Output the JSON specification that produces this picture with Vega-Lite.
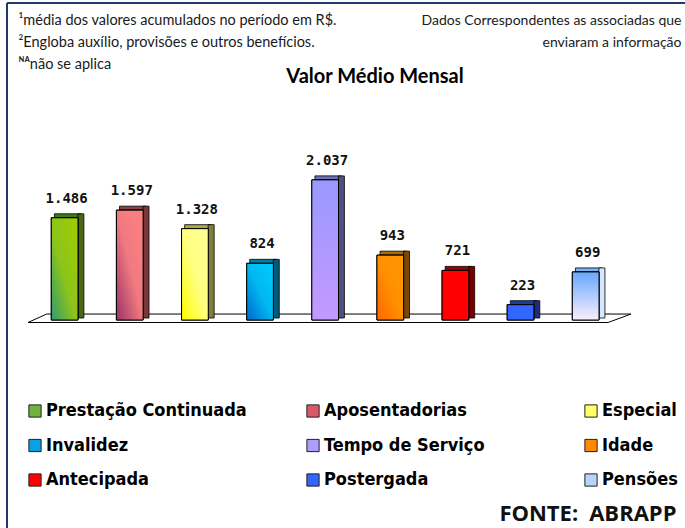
{
  "$schema": "https://vega.github.io/schema/vega-lite/v6.json",
  "width": 678,
  "height": 525,
  "autosize": {"type": "none"},
  "padding": {"left": 7, "top": 3, "right": 0, "bottom": 0},
  "background": "white",
  "title": {"text": "Valor Médio Mensal", "anchor": "middle", "frame": "group", "orient": "top", "offset": -82, "baseline": "alphabetic", "dx": 29, "dy": 18, "font": "Lato", "fontSize": 20, "fontWeight": "bold", "color": "#000000"},
  "datasets": {
    "bars": [
      {"cat": "Prestação Continuada", "v": 1486},
      {"cat": "Aposentadorias", "v": 1597},
      {"cat": "Especial", "v": 1328},
      {"cat": "Invalidez", "v": 824},
      {"cat": "Tempo de Serviço", "v": 2037},
      {"cat": "Idade", "v": 943},
      {"cat": "Antecipada", "v": 721},
      {"cat": "Postergada", "v": 223},
      {"cat": "Pensões", "v": 699}
    ],
    "floor": [
      {"k": 1, "fx": -0.589, "v": -36},
      {"k": 2, "fx": -0.3, "v": 87},
      {"k": 3, "fx": 8.745, "v": 87},
      {"k": 4, "fx": 8.39, "v": -36},
      {"k": 5, "fx": -0.589, "v": -36}
    ]
  },
  "resolve": {"scale": {"x": "independent"}},
  "layer": [
    {
      "data": {"name": "floor"},
      "mark": {"type": "line", "stroke": "#000000", "strokeWidth": 1},
      "encoding": {
        "x": {"field": "fx", "type": "quantitative", "scale": {"domain": [-0.914, 9.581], "nice": false, "zero": false},
          "axis": {"orient": "bottom", "labels": false, "ticks": false, "domain": false, "grid": false, "title": "FONTE:\u2002ABRAPP", "titleAlign": "right", "titleAnchor": "end", "titleBaseline": "alphabetic", "titleX": 669, "titleY": -8, "titleFont": "Open Sans", "titleFontSize": 22, "titleFontWeight": "bold", "titleColor": "#111111"}},
        "y": {"field": "v", "type": "quantitative", "scale": {"domain": [-3023, 4608], "nice": false, "zero": false},
          "axis": {"orient": "right", "labels": false, "ticks": false, "domain": false, "grid": false, "title": ["Dados Correspondentes as associadas que", "enviaram a informação"], "titleAngle": 0, "titleAlign": "right", "titleAnchor": "start", "titleBaseline": "alphabetic", "titleX": -4, "titleY": 21, "titleLineHeight": 22, "titleFont": "Lato", "titleFontSize": 14, "titleFontWeight": "normal", "titleColor": "#1a1a1a"}},
        "order": {"field": "k", "type": "quantitative"}
      }
    },
    {
      "data": {"name": "bars"},
      "encoding": {
        "x": {"field": "cat", "type": "nominal", "sort": null, "scale": {"paddingInner": 0.59, "paddingOuter": 1.043, "align": 0.34},
          "axis": {"orient": "top", "labels": false, "ticks": false, "domain": false, "grid": false, "title": ["¹média dos valores acumulados no período em R$.", "²Engloba auxílio, provisões e outros benefícios.", "ᴺᴬnão se aplica"], "titleAnchor": "start", "titleAlign": "left", "titleBaseline": "alphabetic", "titleX": 11, "titleY": 21, "titleLineHeight": 22, "titleAngle": 0, "titleFont": "Lato", "titleFontSize": 14.5, "titleFontWeight": "normal", "titleColor": "#1a1a1a"}},
        "y": {"field": "v", "type": "quantitative", "scale": {"domain": [-3023, 4608], "nice": false, "zero": false},
          "axis": {"orient": "right", "labels": false, "ticks": false, "domain": false, "grid": false, "title": ["Dados Correspondentes as associadas que", "enviaram a informação"], "titleAngle": 0, "titleAlign": "right", "titleAnchor": "start", "titleBaseline": "alphabetic", "titleX": -4, "titleY": 21, "titleLineHeight": 22, "titleFont": "Lato", "titleFontSize": 14, "titleFontWeight": "normal", "titleColor": "#1a1a1a"}}
      },
      "layer": [
        {
          "mark": {"type": "bar", "width": 26.5, "xOffset": 3, "yOffset": -4, "y2Offset": 0, "stroke": "#000000", "strokeWidth": 0.8},
          "encoding": {
            "y2": {"field": "v"},
            "fill": {"condition": [
              {"test": "datum.cat === 'Prestação Continuada'", "value": "#3d7a1e"},
              {"test": "datum.cat === 'Aposentadorias'", "value": "#8b3f4b"},
              {"test": "datum.cat === 'Especial'", "value": "#a8a845"},
              {"test": "datum.cat === 'Invalidez'", "value": "#0080a8"},
              {"test": "datum.cat === 'Tempo de Serviço'", "value": "#7070b8"},
              {"test": "datum.cat === 'Idade'", "value": "#b06a00"},
              {"test": "datum.cat === 'Antecipada'", "value": "#a00000"},
              {"test": "datum.cat === 'Postergada'", "value": "#1f3f9f"}
            ], "value": "#7ab4f0"}
          }
        },
        {
          "mark": {"type": "bar", "width": 6, "xOffset": 16.25, "yOffset": -4, "y2Offset": -2, "stroke": "#000000", "strokeWidth": 0.8},
          "encoding": {
            "y2": {"datum": 0},
            "fill": {"condition": [
              {"test": "datum.cat === 'Prestação Continuada'", "value": "#4a6614"},
              {"test": "datum.cat === 'Aposentadorias'", "value": "#7a3838"},
              {"test": "datum.cat === 'Especial'", "value": "#7f7f3a"},
              {"test": "datum.cat === 'Invalidez'", "value": "#005a7a"},
              {"test": "datum.cat === 'Tempo de Serviço'", "value": "#505080"},
              {"test": "datum.cat === 'Idade'", "value": "#7a4800"},
              {"test": "datum.cat === 'Antecipada'", "value": "#7a0000"},
              {"test": "datum.cat === 'Postergada'", "value": "#1a2f7a"}
            ], "value": "#d6e8ff"}
          }
        },
        {
          "mark": {"type": "bar", "stroke": "#000000", "strokeWidth": 1},
          "encoding": {
            "color": {"field": "cat", "type": "nominal",
              "scale": {"domain": ["Prestação Continuada", "Aposentadorias", "Especial", "Invalidez", "Tempo de Serviço", "Idade", "Antecipada", "Postergada", "Pensões"],
                "range": ["#6fb33a", "#d9596a", "#ffff66", "#0aa0e6", "#b09cff", "#ff8a00", "#ff0000", "#3366ff", "#b8d4f4"]},
              "legend": {"orient": "none", "legendX": 19, "legendY": 399, "direction": "horizontal", "columns": 3, "gridAlign": "all", "columnPadding": 57, "rowPadding": 16.5, "title": null, "symbolType": "square", "symbolSize": 150, "symbolStrokeColor": "#222222", "symbolStrokeWidth": 1, "symbolOpacity": 1, "labelFont": "DejaVu Sans Condensed", "labelFontWeight": "bold", "labelFontSize": 18, "labelColor": "#000000", "labelOffset": 2, "labelLimit": 400}}
          }
        },
        {
          "mark": {"type": "bar", "stroke": "#000000", "strokeWidth": 1},
          "encoding": {
            "fill": {"condition": [
              {"test": "datum.cat === 'Prestação Continuada'", "value": {"gradient": "linear", "x1": 0, "y1": 1, "x2": 1, "y2": 0, "stops": [{"offset": 0, "color": "#2f9a72"}, {"offset": 0.45, "color": "#8cc41a"}, {"offset": 1, "color": "#a0cc00"}]}},
              {"test": "datum.cat === 'Aposentadorias'", "value": {"gradient": "linear", "x1": 0, "y1": 1, "x2": 1, "y2": 0, "stops": [{"offset": 0, "color": "#993366"}, {"offset": 0.5, "color": "#f07a80"}, {"offset": 1, "color": "#ff8080"}]}},
              {"test": "datum.cat === 'Especial'", "value": {"gradient": "linear", "x1": 0, "y1": 1, "x2": 1, "y2": 0, "stops": [{"offset": 0, "color": "#ffff00"}, {"offset": 0.5, "color": "#ffff80"}, {"offset": 1, "color": "#ffff99"}]}},
              {"test": "datum.cat === 'Invalidez'", "value": {"gradient": "linear", "x1": 0, "y1": 1, "x2": 1, "y2": 0, "stops": [{"offset": 0, "color": "#0066cc"}, {"offset": 0.5, "color": "#00b8f0"}, {"offset": 1, "color": "#00ccff"}]}},
              {"test": "datum.cat === 'Tempo de Serviço'", "value": {"gradient": "linear", "x1": 0, "y1": 0, "x2": 0, "y2": 1, "stops": [{"offset": 0, "color": "#9999ff"}, {"offset": 1, "color": "#c499ff"}]}},
              {"test": "datum.cat === 'Idade'", "value": {"gradient": "linear", "x1": 0, "y1": 1, "x2": 1, "y2": 0, "stops": [{"offset": 0, "color": "#ff6600"}, {"offset": 0.5, "color": "#ff9000"}, {"offset": 1, "color": "#ff9900"}]}},
              {"test": "datum.cat === 'Antecipada'", "value": "#ff0000"},
              {"test": "datum.cat === 'Postergada'", "value": "#3366ff"}
            ], "value": {"gradient": "linear", "x1": 0, "y1": 0, "x2": 0, "y2": 1, "stops": [{"offset": 0, "color": "#66a8ff"}, {"offset": 1, "color": "#fbeefc"}]}}
          }
        },
        {
          "mark": {"type": "text", "font": "DejaVu Sans Mono", "fontWeight": "bold", "fontSize": 14, "dy": -15, "dx": 2, "baseline": "alphabetic", "align": "center", "color": "#111111"},
          "encoding": {
            "text": {"field": "v", "type": "quantitative", "format": ",.0f"}
          }
        }
      ]
    }
  ],
  "config": {
    "view": {"stroke": "#1f3a6e", "strokeWidth": 2, "strokeDash": [678, 1203, 525, 0], "fill": "white"},
    "locale": {"number": {"decimal": ",", "thousands": ".", "grouping": [3], "currency": ["R$", ""]}}
  }
}
